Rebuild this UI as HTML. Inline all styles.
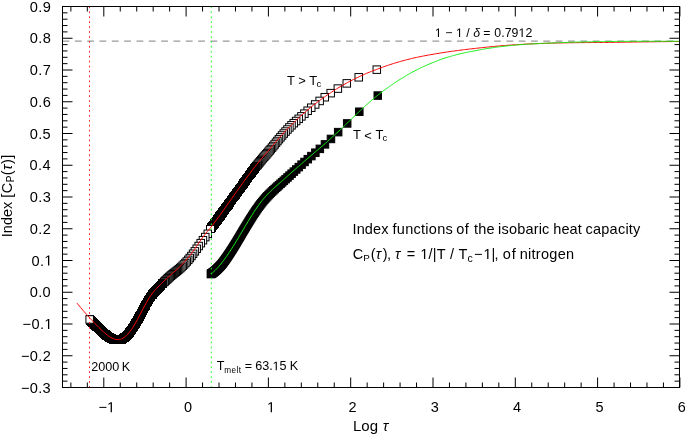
<!DOCTYPE html>
<html><head><meta charset="utf-8"><style>
html,body{margin:0;padding:0;background:#fff;width:685px;height:434px;overflow:hidden}
svg{display:block}
text{font-family:"Liberation Sans",sans-serif;fill:#000}
</style></head><body>
<div style="will-change:transform"><svg width="685" height="434" viewBox="0 0 685 434">
<rect width="685" height="434" fill="#fff"/>
<path d="M62.5 41.1H679.5" stroke="#999" stroke-width="1.2" stroke-dasharray="6.8 5.53" fill="none"/>
<g fill="#fff" stroke="#000" stroke-width="1"><g><rect x="373.05" y="65.90" width="7.5" height="7.5"/><rect x="354.98" y="73.54" width="7.5" height="7.5"/><rect x="343.03" y="79.63" width="7.5" height="7.5"/><rect x="334.10" y="84.84" width="7.5" height="7.5"/><rect x="326.95" y="89.40" width="7.5" height="7.5"/><rect x="321.00" y="93.47" width="7.5" height="7.5"/><rect x="315.90" y="97.18" width="7.5" height="7.5"/><rect x="311.44" y="100.71" width="7.5" height="7.5"/><rect x="307.47" y="103.97" width="7.5" height="7.5"/><rect x="303.90" y="107.02" width="7.5" height="7.5"/><rect x="300.66" y="109.89" width="7.5" height="7.5"/><rect x="297.68" y="112.61" width="7.5" height="7.5"/><rect x="294.94" y="115.06" width="7.5" height="7.5"/><rect x="292.39" y="117.28" width="7.5" height="7.5"/><rect x="290.00" y="119.42" width="7.5" height="7.5"/><rect x="287.77" y="121.58" width="7.5" height="7.5"/><rect x="285.67" y="123.71" width="7.5" height="7.5"/><rect x="283.69" y="125.79" width="7.5" height="7.5"/><rect x="281.81" y="127.81" width="7.5" height="7.5"/><rect x="280.02" y="129.78" width="7.5" height="7.5"/><rect x="278.32" y="131.71" width="7.5" height="7.5"/><rect x="276.70" y="133.60" width="7.5" height="7.5"/><rect x="275.15" y="135.44" width="7.5" height="7.5"/><rect x="273.66" y="137.25" width="7.5" height="7.5"/><rect x="272.23" y="138.99" width="7.5" height="7.5"/><rect x="270.86" y="140.68" width="7.5" height="7.5"/><rect x="269.53" y="142.31" width="7.5" height="7.5"/><rect x="268.26" y="143.86" width="7.5" height="7.5"/><rect x="267.02" y="145.35" width="7.5" height="7.5"/><rect x="265.83" y="146.76" width="7.5" height="7.5"/><rect x="264.68" y="148.11" width="7.5" height="7.5"/><rect x="263.57" y="149.39" width="7.5" height="7.5"/><rect x="262.48" y="150.62" width="7.5" height="7.5"/><rect x="261.43" y="151.81" width="7.5" height="7.5"/><rect x="260.41" y="152.98" width="7.5" height="7.5"/><rect x="259.42" y="154.12" width="7.5" height="7.5"/><rect x="258.45" y="155.27" width="7.5" height="7.5"/><rect x="257.51" y="156.40" width="7.5" height="7.5"/><rect x="256.60" y="157.52" width="7.5" height="7.5"/><rect x="255.70" y="158.62" width="7.5" height="7.5"/><rect x="254.83" y="159.70" width="7.5" height="7.5"/><rect x="253.98" y="160.77" width="7.5" height="7.5"/><rect x="253.15" y="161.82" width="7.5" height="7.5"/></g><g shape-rendering="crispEdges"><rect x="252.44" y="162.95" width="7.3" height="7.3"/><rect x="251.65" y="163.97" width="7.3" height="7.3"/><rect x="250.87" y="164.97" width="7.3" height="7.3"/><rect x="250.11" y="165.96" width="7.3" height="7.3"/><rect x="249.36" y="166.93" width="7.3" height="7.3"/><rect x="248.63" y="167.89" width="7.3" height="7.3"/><rect x="247.92" y="168.84" width="7.3" height="7.3"/><rect x="247.22" y="169.77" width="7.3" height="7.3"/><rect x="246.53" y="170.68" width="7.3" height="7.3"/><rect x="245.86" y="171.59" width="7.3" height="7.3"/><rect x="245.20" y="172.48" width="7.3" height="7.3"/><rect x="244.55" y="173.36" width="7.3" height="7.3"/><rect x="243.91" y="174.23" width="7.3" height="7.3"/><rect x="243.28" y="175.08" width="7.3" height="7.3"/><rect x="242.67" y="175.92" width="7.3" height="7.3"/><rect x="242.06" y="176.75" width="7.3" height="7.3"/><rect x="241.47" y="177.57" width="7.3" height="7.3"/><rect x="240.88" y="178.38" width="7.3" height="7.3"/><rect x="240.30" y="179.18" width="7.3" height="7.3"/><rect x="239.74" y="179.97" width="7.3" height="7.3"/><rect x="239.18" y="180.74" width="7.3" height="7.3"/><rect x="238.63" y="181.51" width="7.3" height="7.3"/><rect x="238.09" y="182.27" width="7.3" height="7.3"/><rect x="237.55" y="183.01" width="7.3" height="7.3"/><rect x="237.03" y="183.74" width="7.3" height="7.3"/><rect x="236.51" y="184.45" width="7.3" height="7.3"/><rect x="236.00" y="185.15" width="7.3" height="7.3"/><rect x="235.50" y="185.84" width="7.3" height="7.3"/><rect x="235.00" y="186.52" width="7.3" height="7.3"/><rect x="234.51" y="187.19" width="7.3" height="7.3"/><rect x="234.03" y="187.86" width="7.3" height="7.3"/><rect x="233.55" y="188.52" width="7.3" height="7.3"/><rect x="233.08" y="189.17" width="7.3" height="7.3"/><rect x="232.62" y="189.81" width="7.3" height="7.3"/><rect x="232.16" y="190.44" width="7.3" height="7.3"/><rect x="231.71" y="191.07" width="7.3" height="7.3"/><rect x="231.26" y="191.69" width="7.3" height="7.3"/><rect x="230.82" y="192.30" width="7.3" height="7.3"/><rect x="230.38" y="192.91" width="7.3" height="7.3"/><rect x="229.95" y="193.51" width="7.3" height="7.3"/><rect x="229.53" y="194.10" width="7.3" height="7.3"/><rect x="229.11" y="194.68" width="7.3" height="7.3"/><rect x="228.69" y="195.26" width="7.3" height="7.3"/><rect x="228.28" y="195.83" width="7.3" height="7.3"/><rect x="227.87" y="196.40" width="7.3" height="7.3"/><rect x="227.47" y="196.96" width="7.3" height="7.3"/><rect x="227.08" y="197.51" width="7.3" height="7.3"/><rect x="226.68" y="198.06" width="7.3" height="7.3"/><rect x="226.29" y="198.60" width="7.3" height="7.3"/><rect x="225.91" y="199.14" width="7.3" height="7.3"/><rect x="225.53" y="199.67" width="7.3" height="7.3"/><rect x="225.15" y="200.19" width="7.3" height="7.3"/><rect x="224.78" y="200.71" width="7.3" height="7.3"/><rect x="224.41" y="201.22" width="7.3" height="7.3"/><rect x="224.05" y="201.73" width="7.3" height="7.3"/><rect x="223.69" y="202.23" width="7.3" height="7.3"/><rect x="223.33" y="202.73" width="7.3" height="7.3"/><rect x="222.98" y="203.23" width="7.3" height="7.3"/><rect x="222.63" y="203.71" width="7.3" height="7.3"/><rect x="222.28" y="204.20" width="7.3" height="7.3"/><rect x="221.94" y="204.67" width="7.3" height="7.3"/><rect x="221.59" y="205.15" width="7.3" height="7.3"/><rect x="221.26" y="205.61" width="7.3" height="7.3"/><rect x="220.92" y="206.08" width="7.3" height="7.3"/><rect x="220.59" y="206.54" width="7.3" height="7.3"/><rect x="220.27" y="206.99" width="7.3" height="7.3"/><rect x="219.94" y="207.44" width="7.3" height="7.3"/><rect x="219.62" y="207.89" width="7.3" height="7.3"/><rect x="219.30" y="208.33" width="7.3" height="7.3"/><rect x="218.98" y="208.77" width="7.3" height="7.3"/><rect x="218.67" y="209.20" width="7.3" height="7.3"/><rect x="218.36" y="209.63" width="7.3" height="7.3"/><rect x="218.05" y="210.06" width="7.3" height="7.3"/><rect x="217.75" y="210.48" width="7.3" height="7.3"/><rect x="217.44" y="210.90" width="7.3" height="7.3"/><rect x="217.14" y="211.31" width="7.3" height="7.3"/><rect x="216.84" y="211.72" width="7.3" height="7.3"/><rect x="216.55" y="212.13" width="7.3" height="7.3"/><rect x="216.26" y="212.53" width="7.3" height="7.3"/><rect x="215.97" y="212.93" width="7.3" height="7.3"/><rect x="215.68" y="213.32" width="7.3" height="7.3"/><rect x="215.39" y="213.71" width="7.3" height="7.3"/><rect x="215.11" y="214.10" width="7.3" height="7.3"/><rect x="214.83" y="214.48" width="7.3" height="7.3"/><rect x="214.55" y="214.86" width="7.3" height="7.3"/><rect x="214.27" y="215.24" width="7.3" height="7.3"/><rect x="214.00" y="215.61" width="7.3" height="7.3"/><rect x="213.72" y="215.98" width="7.3" height="7.3"/><rect x="213.45" y="216.35" width="7.3" height="7.3"/><rect x="213.18" y="216.71" width="7.3" height="7.3"/><rect x="212.92" y="217.07" width="7.3" height="7.3"/><rect x="212.65" y="217.42" width="7.3" height="7.3"/><rect x="212.39" y="217.77" width="7.3" height="7.3"/><rect x="212.13" y="218.12" width="7.3" height="7.3"/><rect x="211.87" y="218.46" width="7.3" height="7.3"/><rect x="211.61" y="218.80" width="7.3" height="7.3"/><rect x="211.36" y="219.14" width="7.3" height="7.3"/><rect x="211.10" y="219.49" width="7.3" height="7.3"/><rect x="210.85" y="219.85" width="7.3" height="7.3"/><rect x="210.60" y="220.19" width="7.3" height="7.3"/><rect x="210.35" y="220.54" width="7.3" height="7.3"/><rect x="210.11" y="220.88" width="7.3" height="7.3"/><rect x="209.86" y="221.22" width="7.3" height="7.3"/><rect x="209.62" y="221.55" width="7.3" height="7.3"/><rect x="209.38" y="221.88" width="7.3" height="7.3"/><rect x="209.14" y="222.21" width="7.3" height="7.3"/><rect x="208.90" y="222.53" width="7.3" height="7.3"/><rect x="208.66" y="222.85" width="7.3" height="7.3"/><rect x="208.43" y="223.17" width="7.3" height="7.3"/><rect x="208.19" y="223.48" width="7.3" height="7.3"/><rect x="207.96" y="223.79" width="7.3" height="7.3"/><rect x="207.73" y="224.09" width="7.3" height="7.3"/><rect x="207.50" y="224.40" width="7.3" height="7.3"/><rect x="207.27" y="224.70" width="7.3" height="7.3"/><rect x="207.05" y="224.99" width="7.3" height="7.3"/><rect x="206.82" y="225.30" width="7.3" height="7.3"/></g><g><rect x="204.03" y="230.05" width="7.5" height="7.5"/><rect x="201.52" y="233.34" width="7.5" height="7.5"/><rect x="199.18" y="236.46" width="7.5" height="7.5"/><rect x="196.98" y="239.40" width="7.5" height="7.5"/><rect x="194.91" y="242.28" width="7.5" height="7.5"/><rect x="192.95" y="245.03" width="7.5" height="7.5"/><rect x="191.09" y="247.63" width="7.5" height="7.5"/><rect x="189.33" y="250.04" width="7.5" height="7.5"/><rect x="187.65" y="252.26" width="7.5" height="7.5"/><rect x="186.04" y="254.28" width="7.5" height="7.5"/><rect x="184.51" y="256.10" width="7.5" height="7.5"/><rect x="183.03" y="257.77" width="7.5" height="7.5"/><rect x="181.62" y="259.31" width="7.5" height="7.5"/><rect x="180.26" y="260.72" width="7.5" height="7.5"/><rect x="178.94" y="262.03" width="7.5" height="7.5"/><rect x="177.68" y="263.24" width="7.5" height="7.5"/><rect x="176.46" y="264.36" width="7.5" height="7.5"/><rect x="175.28" y="265.38" width="7.5" height="7.5"/><rect x="174.13" y="266.33" width="7.5" height="7.5"/><rect x="173.03" y="267.23" width="7.5" height="7.5"/><rect x="171.95" y="268.09" width="7.5" height="7.5"/><rect x="170.91" y="268.92" width="7.5" height="7.5"/><rect x="169.89" y="269.71" width="7.5" height="7.5"/><rect x="168.91" y="270.49" width="7.5" height="7.5"/><rect x="167.95" y="271.24" width="7.5" height="7.5"/><rect x="167.01" y="272.01" width="7.5" height="7.5"/><rect x="166.10" y="272.84" width="7.5" height="7.5"/><rect x="165.22" y="273.66" width="7.5" height="7.5"/><rect x="164.35" y="274.47" width="7.5" height="7.5"/><rect x="163.50" y="275.26" width="7.5" height="7.5"/><rect x="162.68" y="276.04" width="7.5" height="7.5"/><rect x="161.87" y="276.81" width="7.5" height="7.5"/><rect x="161.08" y="277.57" width="7.5" height="7.5"/><rect x="160.31" y="278.32" width="7.5" height="7.5"/></g><g shape-rendering="crispEdges"><rect x="159.65" y="279.15" width="7.3" height="7.3"/><rect x="158.91" y="279.88" width="7.3" height="7.3"/><rect x="158.19" y="280.60" width="7.3" height="7.3"/><rect x="157.47" y="281.32" width="7.3" height="7.3"/><rect x="156.78" y="282.02" width="7.3" height="7.3"/><rect x="156.09" y="282.72" width="7.3" height="7.3"/><rect x="155.42" y="283.41" width="7.3" height="7.3"/><rect x="154.76" y="284.10" width="7.3" height="7.3"/><rect x="154.12" y="284.77" width="7.3" height="7.3"/><rect x="153.48" y="285.43" width="7.3" height="7.3"/><rect x="152.86" y="286.09" width="7.3" height="7.3"/><rect x="152.24" y="286.75" width="7.3" height="7.3"/><rect x="151.64" y="287.41" width="7.3" height="7.3"/><rect x="151.05" y="288.08" width="7.3" height="7.3"/><rect x="150.46" y="288.75" width="7.3" height="7.3"/><rect x="149.89" y="289.43" width="7.3" height="7.3"/><rect x="149.32" y="290.13" width="7.3" height="7.3"/><rect x="148.77" y="290.83" width="7.3" height="7.3"/><rect x="148.22" y="291.54" width="7.3" height="7.3"/><rect x="147.68" y="292.27" width="7.3" height="7.3"/><rect x="147.15" y="293.01" width="7.3" height="7.3"/><rect x="146.63" y="293.77" width="7.3" height="7.3"/><rect x="146.11" y="294.54" width="7.3" height="7.3"/><rect x="145.60" y="295.33" width="7.3" height="7.3"/><rect x="145.10" y="296.13" width="7.3" height="7.3"/><rect x="144.61" y="296.94" width="7.3" height="7.3"/><rect x="144.12" y="297.75" width="7.3" height="7.3"/><rect x="143.64" y="298.57" width="7.3" height="7.3"/><rect x="143.16" y="299.40" width="7.3" height="7.3"/><rect x="142.69" y="300.23" width="7.3" height="7.3"/><rect x="142.23" y="301.06" width="7.3" height="7.3"/><rect x="141.77" y="301.89" width="7.3" height="7.3"/><rect x="141.32" y="302.72" width="7.3" height="7.3"/><rect x="140.88" y="303.55" width="7.3" height="7.3"/><rect x="140.44" y="304.37" width="7.3" height="7.3"/><rect x="140.00" y="305.18" width="7.3" height="7.3"/><rect x="139.57" y="305.97" width="7.3" height="7.3"/><rect x="139.15" y="306.76" width="7.3" height="7.3"/><rect x="138.73" y="307.54" width="7.3" height="7.3"/><rect x="138.32" y="308.31" width="7.3" height="7.3"/><rect x="137.91" y="309.08" width="7.3" height="7.3"/><rect x="137.50" y="309.84" width="7.3" height="7.3"/><rect x="137.10" y="310.59" width="7.3" height="7.3"/><rect x="136.70" y="311.33" width="7.3" height="7.3"/><rect x="136.31" y="312.06" width="7.3" height="7.3"/><rect x="135.93" y="312.78" width="7.3" height="7.3"/><rect x="135.54" y="313.50" width="7.3" height="7.3"/><rect x="135.16" y="314.20" width="7.3" height="7.3"/><rect x="134.79" y="314.89" width="7.3" height="7.3"/><rect x="134.42" y="315.56" width="7.3" height="7.3"/><rect x="134.05" y="316.23" width="7.3" height="7.3"/><rect x="133.69" y="316.88" width="7.3" height="7.3"/><rect x="133.32" y="317.52" width="7.3" height="7.3"/><rect x="132.97" y="318.15" width="7.3" height="7.3"/><rect x="132.62" y="318.77" width="7.3" height="7.3"/><rect x="132.27" y="319.37" width="7.3" height="7.3"/><rect x="131.92" y="319.96" width="7.3" height="7.3"/><rect x="131.58" y="320.54" width="7.3" height="7.3"/><rect x="131.24" y="321.10" width="7.3" height="7.3"/><rect x="130.90" y="321.65" width="7.3" height="7.3"/><rect x="130.57" y="322.19" width="7.3" height="7.3"/><rect x="130.24" y="322.71" width="7.3" height="7.3"/><rect x="129.91" y="323.22" width="7.3" height="7.3"/><rect x="129.59" y="323.71" width="7.3" height="7.3"/><rect x="129.27" y="324.20" width="7.3" height="7.3"/><rect x="128.95" y="324.67" width="7.3" height="7.3"/><rect x="128.63" y="325.12" width="7.3" height="7.3"/><rect x="128.32" y="325.57" width="7.3" height="7.3"/><rect x="128.01" y="326.00" width="7.3" height="7.3"/><rect x="127.70" y="326.43" width="7.3" height="7.3"/><rect x="127.40" y="326.84" width="7.3" height="7.3"/><rect x="127.09" y="327.23" width="7.3" height="7.3"/><rect x="126.79" y="327.62" width="7.3" height="7.3"/><rect x="126.50" y="328.00" width="7.3" height="7.3"/><rect x="126.20" y="328.36" width="7.3" height="7.3"/><rect x="125.91" y="328.72" width="7.3" height="7.3"/><rect x="125.62" y="329.06" width="7.3" height="7.3"/><rect x="125.33" y="329.39" width="7.3" height="7.3"/><rect x="125.05" y="329.74" width="7.3" height="7.3"/><rect x="124.76" y="330.08" width="7.3" height="7.3"/><rect x="124.48" y="330.40" width="7.3" height="7.3"/><rect x="124.20" y="330.72" width="7.3" height="7.3"/><rect x="123.93" y="331.03" width="7.3" height="7.3"/><rect x="123.65" y="331.32" width="7.3" height="7.3"/><rect x="123.38" y="331.61" width="7.3" height="7.3"/><rect x="123.11" y="331.89" width="7.3" height="7.3"/><rect x="122.84" y="332.15" width="7.3" height="7.3"/><rect x="122.58" y="332.41" width="7.3" height="7.3"/><rect x="122.31" y="332.66" width="7.3" height="7.3"/><rect x="122.05" y="332.90" width="7.3" height="7.3"/><rect x="121.79" y="333.13" width="7.3" height="7.3"/><rect x="121.53" y="333.36" width="7.3" height="7.3"/><rect x="121.27" y="333.57" width="7.3" height="7.3"/><rect x="121.02" y="333.78" width="7.3" height="7.3"/><rect x="120.77" y="333.98" width="7.3" height="7.3"/><rect x="120.52" y="334.16" width="7.3" height="7.3"/><rect x="120.27" y="334.35" width="7.3" height="7.3"/><rect x="120.02" y="334.52" width="7.3" height="7.3"/><rect x="119.77" y="334.69" width="7.3" height="7.3"/><rect x="119.53" y="334.84" width="7.3" height="7.3"/><rect x="119.28" y="334.99" width="7.3" height="7.3"/><rect x="119.04" y="335.13" width="7.3" height="7.3"/><rect x="118.80" y="335.27" width="7.3" height="7.3"/><rect x="118.57" y="335.40" width="7.3" height="7.3"/><rect x="118.33" y="335.52" width="7.3" height="7.3"/><rect x="118.10" y="335.63" width="7.3" height="7.3"/><rect x="117.86" y="335.73" width="7.3" height="7.3"/><rect x="117.63" y="335.83" width="7.3" height="7.3"/><rect x="117.40" y="335.92" width="7.3" height="7.3"/><rect x="117.17" y="336.01" width="7.3" height="7.3"/><rect x="116.94" y="336.09" width="7.3" height="7.3"/><rect x="116.72" y="336.16" width="7.3" height="7.3"/><rect x="116.49" y="336.22" width="7.3" height="7.3"/><rect x="116.27" y="336.28" width="7.3" height="7.3"/><rect x="116.05" y="336.34" width="7.3" height="7.3"/><rect x="115.83" y="336.39" width="7.3" height="7.3"/><rect x="115.61" y="336.43" width="7.3" height="7.3"/><rect x="115.39" y="336.46" width="7.3" height="7.3"/><rect x="115.18" y="336.50" width="7.3" height="7.3"/><rect x="114.96" y="336.52" width="7.3" height="7.3"/><rect x="114.75" y="336.54" width="7.3" height="7.3"/><rect x="114.54" y="336.56" width="7.3" height="7.3"/><rect x="114.32" y="336.57" width="7.3" height="7.3"/><rect x="114.11" y="336.58" width="7.3" height="7.3"/><rect x="113.91" y="336.58" width="7.3" height="7.3"/><rect x="113.70" y="336.58" width="7.3" height="7.3"/><rect x="113.49" y="336.57" width="7.3" height="7.3"/><rect x="113.29" y="336.56" width="7.3" height="7.3"/><rect x="113.08" y="336.55" width="7.3" height="7.3"/><rect x="112.88" y="336.53" width="7.3" height="7.3"/><rect x="112.68" y="336.51" width="7.3" height="7.3"/><rect x="112.48" y="336.48" width="7.3" height="7.3"/><rect x="112.28" y="336.45" width="7.3" height="7.3"/><rect x="112.08" y="336.42" width="7.3" height="7.3"/><rect x="111.88" y="336.39" width="7.3" height="7.3"/><rect x="111.69" y="336.35" width="7.3" height="7.3"/><rect x="111.49" y="336.31" width="7.3" height="7.3"/><rect x="111.30" y="336.26" width="7.3" height="7.3"/><rect x="111.10" y="336.21" width="7.3" height="7.3"/><rect x="110.91" y="336.16" width="7.3" height="7.3"/><rect x="110.72" y="336.11" width="7.3" height="7.3"/><rect x="110.53" y="336.05" width="7.3" height="7.3"/><rect x="110.34" y="335.99" width="7.3" height="7.3"/><rect x="110.16" y="335.93" width="7.3" height="7.3"/><rect x="109.97" y="335.87" width="7.3" height="7.3"/><rect x="109.78" y="335.80" width="7.3" height="7.3"/><rect x="109.60" y="335.73" width="7.3" height="7.3"/><rect x="109.41" y="335.66" width="7.3" height="7.3"/><rect x="109.23" y="335.59" width="7.3" height="7.3"/><rect x="109.05" y="335.51" width="7.3" height="7.3"/><rect x="108.87" y="335.43" width="7.3" height="7.3"/><rect x="108.69" y="335.35" width="7.3" height="7.3"/><rect x="108.51" y="335.27" width="7.3" height="7.3"/><rect x="108.33" y="335.19" width="7.3" height="7.3"/><rect x="108.15" y="335.11" width="7.3" height="7.3"/><rect x="107.97" y="335.02" width="7.3" height="7.3"/><rect x="107.80" y="334.93" width="7.3" height="7.3"/><rect x="107.62" y="334.84" width="7.3" height="7.3"/><rect x="107.45" y="334.75" width="7.3" height="7.3"/><rect x="107.28" y="334.66" width="7.3" height="7.3"/><rect x="107.10" y="334.56" width="7.3" height="7.3"/><rect x="106.93" y="334.46" width="7.3" height="7.3"/><rect x="106.76" y="334.37" width="7.3" height="7.3"/><rect x="106.59" y="334.27" width="7.3" height="7.3"/><rect x="106.42" y="334.17" width="7.3" height="7.3"/><rect x="106.25" y="334.07" width="7.3" height="7.3"/><rect x="106.09" y="333.96" width="7.3" height="7.3"/><rect x="105.92" y="333.86" width="7.3" height="7.3"/><rect x="105.75" y="333.75" width="7.3" height="7.3"/><rect x="105.59" y="333.65" width="7.3" height="7.3"/><rect x="105.42" y="333.54" width="7.3" height="7.3"/><rect x="105.26" y="333.43" width="7.3" height="7.3"/><rect x="105.10" y="333.32" width="7.3" height="7.3"/><rect x="104.93" y="333.21" width="7.3" height="7.3"/><rect x="104.77" y="333.10" width="7.3" height="7.3"/><rect x="104.61" y="332.99" width="7.3" height="7.3"/><rect x="104.45" y="332.88" width="7.3" height="7.3"/><rect x="104.29" y="332.76" width="7.3" height="7.3"/><rect x="104.13" y="332.65" width="7.3" height="7.3"/><rect x="103.98" y="332.53" width="7.3" height="7.3"/><rect x="103.82" y="332.42" width="7.3" height="7.3"/><rect x="103.66" y="332.30" width="7.3" height="7.3"/><rect x="103.51" y="332.18" width="7.3" height="7.3"/><rect x="103.35" y="332.07" width="7.3" height="7.3"/><rect x="103.20" y="331.95" width="7.3" height="7.3"/><rect x="103.04" y="331.83" width="7.3" height="7.3"/><rect x="102.89" y="331.71" width="7.3" height="7.3"/><rect x="102.74" y="331.59" width="7.3" height="7.3"/><rect x="102.59" y="331.47" width="7.3" height="7.3"/><rect x="102.43" y="331.35" width="7.3" height="7.3"/><rect x="102.28" y="331.23" width="7.3" height="7.3"/><rect x="102.13" y="331.11" width="7.3" height="7.3"/><rect x="101.98" y="330.99" width="7.3" height="7.3"/><rect x="101.84" y="330.87" width="7.3" height="7.3"/><rect x="101.69" y="330.74" width="7.3" height="7.3"/><rect x="101.54" y="330.62" width="7.3" height="7.3"/><rect x="101.39" y="330.50" width="7.3" height="7.3"/><rect x="101.25" y="330.38" width="7.3" height="7.3"/><rect x="101.10" y="330.25" width="7.3" height="7.3"/><rect x="100.96" y="330.13" width="7.3" height="7.3"/><rect x="100.81" y="330.01" width="7.3" height="7.3"/><rect x="100.67" y="329.88" width="7.3" height="7.3"/><rect x="100.52" y="329.76" width="7.3" height="7.3"/><rect x="100.38" y="329.64" width="7.3" height="7.3"/><rect x="100.24" y="329.51" width="7.3" height="7.3"/><rect x="100.10" y="329.39" width="7.3" height="7.3"/><rect x="99.96" y="329.26" width="7.3" height="7.3"/><rect x="99.81" y="329.14" width="7.3" height="7.3"/><rect x="99.67" y="329.02" width="7.3" height="7.3"/><rect x="99.54" y="328.89" width="7.3" height="7.3"/><rect x="99.40" y="328.77" width="7.3" height="7.3"/><rect x="99.26" y="328.64" width="7.3" height="7.3"/><rect x="99.12" y="328.52" width="7.3" height="7.3"/><rect x="98.98" y="328.40" width="7.3" height="7.3"/><rect x="98.85" y="328.27" width="7.3" height="7.3"/><rect x="98.71" y="328.15" width="7.3" height="7.3"/><rect x="98.57" y="328.02" width="7.3" height="7.3"/><rect x="98.44" y="327.90" width="7.3" height="7.3"/><rect x="98.30" y="327.78" width="7.3" height="7.3"/><rect x="98.17" y="327.65" width="7.3" height="7.3"/><rect x="98.04" y="327.53" width="7.3" height="7.3"/><rect x="97.90" y="327.41" width="7.3" height="7.3"/><rect x="97.77" y="327.28" width="7.3" height="7.3"/><rect x="97.64" y="327.16" width="7.3" height="7.3"/><rect x="97.51" y="327.04" width="7.3" height="7.3"/><rect x="97.37" y="326.92" width="7.3" height="7.3"/><rect x="97.24" y="326.80" width="7.3" height="7.3"/><rect x="97.11" y="326.68" width="7.3" height="7.3"/><rect x="96.98" y="326.56" width="7.3" height="7.3"/><rect x="96.85" y="326.44" width="7.3" height="7.3"/><rect x="96.73" y="326.32" width="7.3" height="7.3"/><rect x="96.60" y="326.20" width="7.3" height="7.3"/><rect x="96.47" y="326.08" width="7.3" height="7.3"/><rect x="96.34" y="325.96" width="7.3" height="7.3"/><rect x="96.21" y="325.85" width="7.3" height="7.3"/><rect x="96.09" y="325.73" width="7.3" height="7.3"/><rect x="95.96" y="325.61" width="7.3" height="7.3"/><rect x="95.84" y="325.49" width="7.3" height="7.3"/><rect x="95.71" y="325.37" width="7.3" height="7.3"/><rect x="95.59" y="325.26" width="7.3" height="7.3"/><rect x="95.46" y="325.14" width="7.3" height="7.3"/><rect x="95.34" y="325.02" width="7.3" height="7.3"/><rect x="95.21" y="324.91" width="7.3" height="7.3"/><rect x="95.09" y="324.79" width="7.3" height="7.3"/><rect x="94.97" y="324.67" width="7.3" height="7.3"/><rect x="94.85" y="324.56" width="7.3" height="7.3"/><rect x="94.72" y="324.44" width="7.3" height="7.3"/><rect x="94.60" y="324.32" width="7.3" height="7.3"/><rect x="94.48" y="324.21" width="7.3" height="7.3"/><rect x="94.36" y="324.09" width="7.3" height="7.3"/><rect x="94.24" y="323.98" width="7.3" height="7.3"/><rect x="94.12" y="323.86" width="7.3" height="7.3"/><rect x="94.00" y="323.75" width="7.3" height="7.3"/><rect x="93.88" y="323.63" width="7.3" height="7.3"/><rect x="93.76" y="323.52" width="7.3" height="7.3"/><rect x="93.65" y="323.40" width="7.3" height="7.3"/><rect x="93.53" y="323.29" width="7.3" height="7.3"/><rect x="93.41" y="323.18" width="7.3" height="7.3"/><rect x="93.29" y="323.06" width="7.3" height="7.3"/><rect x="93.18" y="322.95" width="7.3" height="7.3"/><rect x="93.06" y="322.84" width="7.3" height="7.3"/><rect x="92.94" y="322.72" width="7.3" height="7.3"/><rect x="92.83" y="322.61" width="7.3" height="7.3"/><rect x="92.71" y="322.50" width="7.3" height="7.3"/><rect x="92.60" y="322.38" width="7.3" height="7.3"/><rect x="92.48" y="322.27" width="7.3" height="7.3"/><rect x="92.37" y="322.16" width="7.3" height="7.3"/><rect x="92.26" y="322.05" width="7.3" height="7.3"/><rect x="92.14" y="321.94" width="7.3" height="7.3"/><rect x="92.03" y="321.83" width="7.3" height="7.3"/><rect x="91.92" y="321.72" width="7.3" height="7.3"/><rect x="91.80" y="321.61" width="7.3" height="7.3"/><rect x="91.69" y="321.51" width="7.3" height="7.3"/><rect x="91.58" y="321.40" width="7.3" height="7.3"/><rect x="91.47" y="321.29" width="7.3" height="7.3"/><rect x="91.36" y="321.18" width="7.3" height="7.3"/><rect x="91.25" y="321.07" width="7.3" height="7.3"/><rect x="91.14" y="320.97" width="7.3" height="7.3"/><rect x="91.03" y="320.86" width="7.3" height="7.3"/><rect x="90.92" y="320.75" width="7.3" height="7.3"/><rect x="90.81" y="320.65" width="7.3" height="7.3"/><rect x="90.70" y="320.54" width="7.3" height="7.3"/><rect x="90.59" y="320.43" width="7.3" height="7.3"/><rect x="90.48" y="320.33" width="7.3" height="7.3"/><rect x="90.38" y="320.22" width="7.3" height="7.3"/><rect x="90.27" y="320.11" width="7.3" height="7.3"/><rect x="90.16" y="320.01" width="7.3" height="7.3"/><rect x="90.05" y="319.90" width="7.3" height="7.3"/><rect x="89.95" y="319.80" width="7.3" height="7.3"/><rect x="89.84" y="319.69" width="7.3" height="7.3"/><rect x="89.74" y="319.59" width="7.3" height="7.3"/><rect x="89.63" y="319.48" width="7.3" height="7.3"/><rect x="89.52" y="319.38" width="7.3" height="7.3"/><rect x="89.42" y="319.27" width="7.3" height="7.3"/><rect x="89.31" y="319.17" width="7.3" height="7.3"/><rect x="89.21" y="319.06" width="7.3" height="7.3"/><rect x="89.11" y="318.96" width="7.3" height="7.3"/><rect x="89.00" y="318.86" width="7.3" height="7.3"/><rect x="88.90" y="318.75" width="7.3" height="7.3"/><rect x="88.80" y="318.65" width="7.3" height="7.3"/><rect x="88.69" y="318.55" width="7.3" height="7.3"/><rect x="88.59" y="318.44" width="7.3" height="7.3"/><rect x="88.49" y="318.34" width="7.3" height="7.3"/><rect x="88.39" y="318.24" width="7.3" height="7.3"/><rect x="88.28" y="318.13" width="7.3" height="7.3"/><rect x="88.18" y="318.03" width="7.3" height="7.3"/><rect x="88.08" y="317.93" width="7.3" height="7.3"/><rect x="87.98" y="317.83" width="7.3" height="7.3"/><rect x="87.88" y="317.73" width="7.3" height="7.3"/><rect x="87.78" y="317.62" width="7.3" height="7.3"/><rect x="87.68" y="317.52" width="7.3" height="7.3"/><rect x="87.58" y="317.42" width="7.3" height="7.3"/><rect x="87.48" y="317.32" width="7.3" height="7.3"/><rect x="87.38" y="317.22" width="7.3" height="7.3"/><rect x="87.28" y="317.12" width="7.3" height="7.3"/><rect x="87.18" y="317.02" width="7.3" height="7.3"/><rect x="87.08" y="316.92" width="7.3" height="7.3"/><rect x="86.99" y="316.82" width="7.3" height="7.3"/><rect x="86.89" y="316.72" width="7.3" height="7.3"/><rect x="86.79" y="316.62" width="7.3" height="7.3"/><rect x="86.69" y="316.52" width="7.3" height="7.3"/><rect x="86.60" y="316.42" width="7.3" height="7.3"/><rect x="86.50" y="316.32" width="7.3" height="7.3"/><rect x="86.40" y="316.22" width="7.3" height="7.3"/><rect x="86.31" y="316.12" width="7.3" height="7.3"/><rect x="86.21" y="316.01" width="7.3" height="7.3"/><rect x="86.12" y="315.91" width="7.3" height="7.3"/></g><g><rect x="85.92" y="315.70" width="7.5" height="7.5"/></g></g>
<g fill="#000" stroke="#000" stroke-width="1"><rect x="207.18" y="270.27" width="7.5" height="7.5"/><rect x="207.41" y="270.11" width="7.5" height="7.5"/><rect x="207.64" y="269.96" width="7.5" height="7.5"/><rect x="207.87" y="269.81" width="7.5" height="7.5"/><rect x="208.10" y="269.65" width="7.5" height="7.5"/><rect x="208.34" y="269.49" width="7.5" height="7.5"/><rect x="208.57" y="269.33" width="7.5" height="7.5"/><rect x="208.81" y="269.16" width="7.5" height="7.5"/><rect x="209.05" y="268.98" width="7.5" height="7.5"/><rect x="209.29" y="268.81" width="7.5" height="7.5"/><rect x="209.53" y="268.63" width="7.5" height="7.5"/><rect x="209.77" y="268.44" width="7.5" height="7.5"/><rect x="210.02" y="268.25" width="7.5" height="7.5"/><rect x="210.26" y="268.05" width="7.5" height="7.5"/><rect x="210.51" y="267.85" width="7.5" height="7.5"/><rect x="210.76" y="267.65" width="7.5" height="7.5"/><rect x="211.01" y="267.44" width="7.5" height="7.5"/><rect x="211.27" y="267.23" width="7.5" height="7.5"/><rect x="211.52" y="267.01" width="7.5" height="7.5"/><rect x="211.78" y="266.79" width="7.5" height="7.5"/><rect x="212.04" y="266.56" width="7.5" height="7.5"/><rect x="212.30" y="266.33" width="7.5" height="7.5"/><rect x="212.56" y="266.09" width="7.5" height="7.5"/><rect x="212.83" y="265.85" width="7.5" height="7.5"/><rect x="213.09" y="265.60" width="7.5" height="7.5"/><rect x="213.36" y="265.35" width="7.5" height="7.5"/><rect x="213.63" y="265.09" width="7.5" height="7.5"/><rect x="213.91" y="264.83" width="7.5" height="7.5"/><rect x="214.18" y="264.56" width="7.5" height="7.5"/><rect x="214.46" y="264.28" width="7.5" height="7.5"/><rect x="214.74" y="264.00" width="7.5" height="7.5"/><rect x="215.02" y="263.72" width="7.5" height="7.5"/><rect x="215.30" y="263.43" width="7.5" height="7.5"/><rect x="215.59" y="263.13" width="7.5" height="7.5"/><rect x="215.88" y="262.83" width="7.5" height="7.5"/><rect x="216.17" y="262.52" width="7.5" height="7.5"/><rect x="216.46" y="262.20" width="7.5" height="7.5"/><rect x="216.76" y="261.88" width="7.5" height="7.5"/><rect x="217.05" y="261.56" width="7.5" height="7.5"/><rect x="217.35" y="261.22" width="7.5" height="7.5"/><rect x="217.66" y="260.88" width="7.5" height="7.5"/><rect x="217.96" y="260.54" width="7.5" height="7.5"/><rect x="218.27" y="260.18" width="7.5" height="7.5"/><rect x="218.58" y="259.78" width="7.5" height="7.5"/><rect x="218.90" y="259.37" width="7.5" height="7.5"/><rect x="219.21" y="258.95" width="7.5" height="7.5"/><rect x="219.53" y="258.53" width="7.5" height="7.5"/><rect x="219.85" y="258.10" width="7.5" height="7.5"/><rect x="220.18" y="257.66" width="7.5" height="7.5"/><rect x="220.51" y="257.22" width="7.5" height="7.5"/><rect x="220.84" y="256.77" width="7.5" height="7.5"/><rect x="221.17" y="256.30" width="7.5" height="7.5"/><rect x="221.51" y="255.83" width="7.5" height="7.5"/><rect x="221.85" y="255.36" width="7.5" height="7.5"/><rect x="222.19" y="254.87" width="7.5" height="7.5"/><rect x="222.54" y="254.38" width="7.5" height="7.5"/><rect x="222.89" y="253.87" width="7.5" height="7.5"/><rect x="223.24" y="253.36" width="7.5" height="7.5"/><rect x="223.60" y="252.84" width="7.5" height="7.5"/><rect x="223.96" y="252.31" width="7.5" height="7.5"/><rect x="224.33" y="251.77" width="7.5" height="7.5"/><rect x="224.70" y="251.22" width="7.5" height="7.5"/><rect x="225.07" y="250.67" width="7.5" height="7.5"/><rect x="225.44" y="250.10" width="7.5" height="7.5"/><rect x="225.83" y="249.52" width="7.5" height="7.5"/><rect x="226.21" y="248.93" width="7.5" height="7.5"/><rect x="226.60" y="248.34" width="7.5" height="7.5"/><rect x="226.99" y="247.73" width="7.5" height="7.5"/><rect x="227.39" y="247.11" width="7.5" height="7.5"/><rect x="227.79" y="246.48" width="7.5" height="7.5"/><rect x="228.20" y="245.84" width="7.5" height="7.5"/><rect x="228.61" y="245.19" width="7.5" height="7.5"/><rect x="229.02" y="244.53" width="7.5" height="7.5"/><rect x="229.44" y="243.86" width="7.5" height="7.5"/><rect x="229.87" y="243.17" width="7.5" height="7.5"/><rect x="230.30" y="242.48" width="7.5" height="7.5"/><rect x="230.74" y="241.77" width="7.5" height="7.5"/><rect x="231.18" y="241.05" width="7.5" height="7.5"/><rect x="231.62" y="240.32" width="7.5" height="7.5"/><rect x="232.08" y="239.57" width="7.5" height="7.5"/><rect x="232.54" y="238.82" width="7.5" height="7.5"/><rect x="233.00" y="238.05" width="7.5" height="7.5"/><rect x="233.47" y="237.26" width="7.5" height="7.5"/><rect x="233.95" y="236.47" width="7.5" height="7.5"/><rect x="234.43" y="235.66" width="7.5" height="7.5"/><rect x="234.92" y="234.84" width="7.5" height="7.5"/><rect x="235.42" y="234.00" width="7.5" height="7.5"/><rect x="235.92" y="233.16" width="7.5" height="7.5"/><rect x="236.43" y="232.30" width="7.5" height="7.5"/><rect x="236.95" y="231.42" width="7.5" height="7.5"/><rect x="237.47" y="230.53" width="7.5" height="7.5"/><rect x="238.01" y="229.63" width="7.5" height="7.5"/><rect x="238.55" y="228.71" width="7.5" height="7.5"/><rect x="239.10" y="227.78" width="7.5" height="7.5"/><rect x="239.66" y="226.84" width="7.5" height="7.5"/><rect x="240.23" y="225.90" width="7.5" height="7.5"/><rect x="240.80" y="224.94" width="7.5" height="7.5"/><rect x="241.39" y="223.97" width="7.5" height="7.5"/><rect x="241.98" y="222.98" width="7.5" height="7.5"/><rect x="242.59" y="221.98" width="7.5" height="7.5"/><rect x="243.21" y="220.97" width="7.5" height="7.5"/><rect x="243.83" y="219.94" width="7.5" height="7.5"/><rect x="244.47" y="218.90" width="7.5" height="7.5"/><rect x="245.12" y="217.84" width="7.5" height="7.5"/><rect x="245.79" y="216.78" width="7.5" height="7.5"/><rect x="246.46" y="215.69" width="7.5" height="7.5"/><rect x="247.15" y="214.60" width="7.5" height="7.5"/><rect x="247.85" y="213.49" width="7.5" height="7.5"/><rect x="248.56" y="212.37" width="7.5" height="7.5"/><rect x="249.29" y="211.24" width="7.5" height="7.5"/><rect x="250.04" y="210.10" width="7.5" height="7.5"/><rect x="250.80" y="208.95" width="7.5" height="7.5"/><rect x="251.58" y="207.79" width="7.5" height="7.5"/><rect x="252.37" y="206.62" width="7.5" height="7.5"/><rect x="253.18" y="205.45" width="7.5" height="7.5"/><rect x="254.02" y="204.27" width="7.5" height="7.5"/><rect x="254.87" y="203.09" width="7.5" height="7.5"/><rect x="255.74" y="201.90" width="7.5" height="7.5"/><rect x="256.63" y="200.71" width="7.5" height="7.5"/><rect x="257.55" y="199.53" width="7.5" height="7.5"/><rect x="258.49" y="198.35" width="7.5" height="7.5"/><rect x="259.46" y="197.17" width="7.5" height="7.5"/><rect x="260.45" y="196.00" width="7.5" height="7.5"/><rect x="261.47" y="194.83" width="7.5" height="7.5"/><rect x="262.53" y="193.67" width="7.5" height="7.5"/><rect x="263.61" y="192.50" width="7.5" height="7.5"/><rect x="264.73" y="191.33" width="7.5" height="7.5"/><rect x="265.88" y="190.16" width="7.5" height="7.5"/><rect x="267.07" y="188.97" width="7.5" height="7.5"/><rect x="268.31" y="187.77" width="7.5" height="7.5"/><rect x="269.58" y="186.56" width="7.5" height="7.5"/><rect x="270.91" y="185.32" width="7.5" height="7.5"/><rect x="272.29" y="184.06" width="7.5" height="7.5"/><rect x="273.72" y="182.77" width="7.5" height="7.5"/><rect x="275.21" y="181.43" width="7.5" height="7.5"/><rect x="276.76" y="180.04" width="7.5" height="7.5"/><rect x="278.39" y="178.59" width="7.5" height="7.5"/><rect x="280.09" y="177.05" width="7.5" height="7.5"/><rect x="281.88" y="175.43" width="7.5" height="7.5"/><rect x="283.77" y="173.70" width="7.5" height="7.5"/><rect x="285.75" y="171.87" width="7.5" height="7.5"/><rect x="287.86" y="169.93" width="7.5" height="7.5"/><rect x="290.10" y="167.87" width="7.5" height="7.5"/><rect x="292.48" y="165.69" width="7.5" height="7.5"/><rect x="295.04" y="163.37" width="7.5" height="7.5"/><rect x="297.80" y="160.89" width="7.5" height="7.5"/><rect x="300.78" y="158.24" width="7.5" height="7.5"/><rect x="304.04" y="155.41" width="7.5" height="7.5"/><rect x="307.62" y="152.34" width="7.5" height="7.5"/><rect x="311.61" y="148.95" width="7.5" height="7.5"/><rect x="316.09" y="145.12" width="7.5" height="7.5"/><rect x="321.22" y="140.64" width="7.5" height="7.5"/><rect x="327.21" y="135.19" width="7.5" height="7.5"/><rect x="334.42" y="128.38" width="7.5" height="7.5"/><rect x="343.44" y="119.68" width="7.5" height="7.5"/><rect x="355.55" y="107.98" width="7.5" height="7.5"/><rect x="374.00" y="91.83" width="7.5" height="7.5"/></g>
<path d="M89.5 6.5V387.5" stroke="#ff2020" stroke-width="1" stroke-dasharray="1.7 3.23" fill="none"/>
<path d="M211.3 6.5V387.5" stroke="#20ff20" stroke-width="1" stroke-dasharray="1.7 3.23" fill="none"/>
<polyline points="77.00,303.21 78.21,304.66 79.41,306.09 80.62,307.52 81.83,308.94 83.04,310.34 84.24,311.74 85.45,313.12 86.66,314.49 87.87,315.85 89.07,317.19 90.28,318.52 91.49,319.83 92.70,321.13 93.90,322.41 95.11,323.67 96.32,324.92 97.53,326.14 98.73,327.34 99.94,328.52 101.15,329.69 102.36,330.82 103.56,331.93 104.77,333.00 105.98,334.03 107.19,334.99 108.39,335.89 109.60,336.72 110.81,337.46 112.02,338.11 113.22,338.65 114.43,339.09 115.64,339.40 116.84,339.58 118.05,339.62 119.26,339.51 120.47,339.25 121.67,338.82 122.88,338.21 124.09,337.44 125.30,336.52 126.50,335.43 127.71,334.20 128.92,332.82 130.13,331.31 131.33,329.66 132.54,327.89 133.75,325.99 134.96,323.98 136.16,321.87 137.37,319.67 138.58,317.40 139.79,315.10 140.99,312.76 142.20,310.43 143.41,308.11 144.62,305.83 145.82,303.61 147.03,301.47 148.24,299.42 149.44,297.48 150.65,295.67 151.86,294.01 153.07,292.46 154.27,291.01 155.48,289.65 156.69,288.35 157.90,287.09 159.10,285.85 160.31,284.64 161.52,283.45 162.73,282.28 163.93,281.12 165.14,279.98 166.35,278.86 167.56,277.75 168.76,276.65 169.97,275.56 171.18,274.48 172.39,273.41 173.59,272.34 174.80,271.28 176.01,270.20 177.22,269.10 178.42,267.99 179.63,266.85 180.84,265.68 182.05,264.46 183.25,263.20 184.46,261.90 185.67,260.54 186.87,259.14 188.08,257.68 189.29,256.18 190.50,254.63 191.70,253.03 192.91,251.37 194.12,249.67 195.33,247.94 196.53,246.19 197.74,244.43 198.95,242.67 200.16,240.93 201.36,239.22 202.57,237.55 203.78,235.93 204.99,234.37 206.19,232.88 207.40,231.43 208.61,229.99 209.82,228.54 211.02,227.05 212.23,225.53 213.44,223.96 214.65,222.37 215.85,220.75 217.06,219.11 218.27,217.44 219.47,215.77 220.68,214.08 221.89,212.39 223.10,210.69 224.30,208.99 225.51,207.28 226.72,205.57 227.93,203.87 229.13,202.15 230.34,200.44 231.55,198.73 232.76,197.02 233.96,195.32 235.17,193.61 236.38,191.91 237.59,190.21 238.79,188.52 240.00,186.84 241.21,185.16 242.42,183.49 243.62,181.82 244.83,180.17 246.04,178.52 247.25,176.89 248.45,175.26 249.66,173.65 250.87,172.05 252.08,170.47 253.28,168.90 254.49,167.34 255.70,165.80 256.90,164.28 258.11,162.77 259.32,161.28 260.53,159.81 261.73,158.36 262.94,156.93 264.15,155.52 265.36,154.13 266.56,152.74 267.77,151.34 268.98,149.92 270.19,148.49 271.39,147.09 272.60,145.67 273.81,144.24 275.02,142.80 276.22,141.36 277.43,139.93 278.64,138.51 279.85,137.11 281.05,135.74 282.26,134.39 283.47,133.06 284.68,131.76 285.88,130.49 287.09,129.23 288.30,128.00 289.51,126.79 290.71,125.60 291.92,124.44 293.13,123.29 294.33,122.14 295.54,120.92 296.75,119.73 297.96,118.55 299.16,117.39 300.37,116.26 301.58,115.17 302.79,114.10 303.99,113.04 305.20,111.99 306.41,110.96 307.62,109.94 308.82,108.94 310.03,107.95 311.24,106.97 312.45,106.00 313.65,105.04 314.86,104.10 316.07,103.16 317.28,102.24 318.48,101.33 319.69,100.43 320.90,99.54 322.11,98.66 323.31,97.79 324.52,96.94 325.73,96.09 326.93,95.26 328.14,94.44 329.35,93.62 330.56,92.81 331.76,92.01 332.97,91.21 334.18,90.42 335.39,89.64 336.59,88.89 337.80,88.15 339.01,87.42 340.22,86.71 341.42,86.00 342.63,85.30 343.84,84.62 345.05,83.94 346.25,83.27 347.46,82.61 348.67,81.96 349.88,81.32 351.08,80.69 352.29,80.06 353.50,79.45 354.71,78.85 355.91,78.25 357.12,77.66 358.33,77.08 359.54,76.51 360.74,75.95 361.95,75.40 363.16,74.86 364.36,74.32 365.57,73.79 366.78,73.27 367.99,72.76 369.19,72.27 370.40,71.78 371.61,71.31 372.82,70.84 374.02,70.38 375.23,69.93 376.44,69.48 377.65,69.03 378.85,68.57 380.06,68.11 381.27,67.66 382.48,67.22 383.68,66.79 384.89,66.36 386.10,65.94 387.31,65.53 388.51,65.12 389.72,64.72 390.93,64.33 392.14,63.94 393.34,63.56 394.55,63.19 395.76,62.82 396.96,62.46 398.17,62.11 399.38,61.76 400.59,61.41 401.79,61.07 403.00,60.74 404.21,60.42 405.42,60.09 406.62,59.78 407.83,59.47 409.04,59.16 410.25,58.86 411.45,58.56 412.66,58.28 413.87,58.01 415.08,57.74 416.28,57.48 417.49,57.22 418.70,56.97 419.91,56.72 421.11,56.48 422.32,56.23 423.53,56.00 424.74,55.76 425.94,55.53 427.15,55.31 428.36,55.08 429.57,54.87 430.77,54.65 431.98,54.44 433.19,54.23 434.39,54.02 435.60,53.81 436.81,53.61 438.02,53.41 439.22,53.22 440.43,53.02 441.64,52.83 442.85,52.64 444.05,52.46 445.26,52.27 446.47,52.09 447.68,51.91 448.88,51.73 450.09,51.56 451.30,51.38 452.51,51.21 453.71,51.05 454.92,50.88 456.13,50.72 457.34,50.55 458.54,50.39 459.75,50.24 460.96,50.08 462.17,49.93 463.37,49.78 464.58,49.63 465.79,49.48 466.99,49.34 468.20,49.20 469.41,49.06 470.62,48.92 471.82,48.79 473.03,48.65 474.24,48.52 475.45,48.39 476.65,48.25 477.86,48.11 479.07,47.98 480.28,47.84 481.48,47.70 482.69,47.57 483.90,47.44 485.11,47.31 486.31,47.19 487.52,47.06 488.73,46.94 489.94,46.82 491.14,46.70 492.35,46.58 493.56,46.46 494.77,46.35 495.97,46.24 497.18,46.13 498.39,46.02 499.60,45.91 500.80,45.81 502.01,45.71 503.22,45.62 504.42,45.53 505.63,45.43 506.84,45.34 508.05,45.26 509.25,45.17 510.46,45.08 511.67,45.00 512.88,44.92 514.08,44.84 515.29,44.76 516.50,44.68 517.71,44.61 518.91,44.53 520.12,44.46 521.33,44.39 522.54,44.32 523.74,44.25 524.95,44.18 526.16,44.11 527.37,44.05 528.57,43.99 529.78,43.92 530.99,43.87 532.20,43.82 533.40,43.77 534.61,43.72 535.82,43.67 537.03,43.63 538.23,43.58 539.44,43.54 540.65,43.49 541.85,43.45 543.06,43.41 544.27,43.37 545.48,43.33 546.68,43.30 547.89,43.26 549.10,43.23 550.31,43.19 551.51,43.16 552.72,43.13 553.93,43.09 555.14,43.06 556.34,43.04 557.55,43.01 558.76,42.98 559.97,42.95 561.17,42.93 562.38,42.90 563.59,42.88 564.80,42.86 566.00,42.83 567.21,42.81 568.42,42.79 569.63,42.77 570.83,42.75 572.04,42.74 573.25,42.72 574.45,42.70 575.66,42.68 576.87,42.67 578.08,42.65 579.28,42.64 580.49,42.63 581.70,42.61 582.91,42.60 584.11,42.59 585.32,42.58 586.53,42.57 587.74,42.56 588.94,42.55 590.15,42.54 591.36,42.53 592.57,42.52 593.77,42.51 594.98,42.51 596.19,42.50 597.40,42.49 598.60,42.49 599.81,42.48 601.02,42.48 602.23,42.47 603.43,42.47 604.64,42.46 605.85,42.46 607.06,42.45 608.26,42.45 609.47,42.44 610.68,42.43 611.88,42.41 613.09,42.39 614.30,42.36 615.51,42.34 616.71,42.32 617.92,42.30 619.13,42.28 620.34,42.25 621.54,42.23 622.75,42.21 623.96,42.19 625.17,42.17 626.37,42.15 627.58,42.13 628.79,42.10 630.00,42.08 631.20,42.06 632.41,42.04 633.62,42.02 634.83,42.00 636.03,41.98 637.24,41.97 638.45,41.96 639.66,41.94 640.86,41.93 642.07,41.92 643.28,41.90 644.48,41.89 645.69,41.88 646.90,41.86 648.11,41.85 649.31,41.83 650.52,41.82 651.73,41.80 652.94,41.78 654.14,41.77 655.35,41.75 656.56,41.73 657.77,41.72 658.97,41.70 660.18,41.68 661.39,41.67 662.60,41.66 663.80,41.65 665.01,41.64 666.22,41.63 667.43,41.62 668.63,41.60 669.84,41.59 671.05,41.58 672.26,41.56 673.46,41.55 674.67,41.53 675.88,41.51 677.09,41.50 678.29,41.48 679.50,41.46" fill="none" stroke="#ff0000" stroke-width="1"/>
<polyline points="211.40,273.66 212.34,272.90 213.28,272.09 214.21,271.23 215.15,270.34 216.09,269.39 217.03,268.41 217.97,267.39 218.90,266.32 219.84,265.22 220.78,264.09 221.72,262.91 222.66,261.71 223.59,260.47 224.53,259.20 225.47,257.90 226.41,256.58 227.35,255.22 228.29,253.84 229.22,252.44 230.16,251.01 231.10,249.56 232.04,248.10 232.98,246.61 233.91,245.10 234.85,243.58 235.79,242.05 236.73,240.50 237.67,238.94 238.60,237.38 239.54,235.80 240.48,234.23 241.42,232.64 242.36,231.06 243.29,229.48 244.23,227.90 245.17,226.32 246.11,224.75 247.05,223.18 247.98,221.63 248.92,220.08 249.86,218.55 250.80,217.03 251.74,215.53 252.68,214.05 253.61,212.58 254.55,211.14 255.49,209.72 256.43,208.33 257.37,206.97 258.30,205.63 259.24,204.32 260.18,203.05 261.12,201.81 262.06,200.60 262.99,199.43 263.93,198.30 264.87,197.22 265.81,196.18 266.75,195.16 267.68,194.17 268.62,193.21 269.56,192.27 270.50,191.34 271.44,190.44 272.37,189.56 273.31,188.68 274.25,187.83 275.19,186.98 276.13,186.14 277.07,185.32 278.00,184.49 278.94,183.67 279.88,182.86 280.82,182.04 281.76,181.23 282.69,180.41 283.63,179.59 284.57,178.76 285.51,177.93 286.45,177.10 287.38,176.26 288.32,175.42 289.26,174.59 290.20,173.75 291.14,172.90 292.07,172.06 293.01,171.22 293.95,170.39 294.89,169.56 295.83,168.74 296.76,167.92 297.70,167.11 298.64,166.30 299.58,165.50 300.52,164.67 301.46,163.83 302.39,163.00 303.33,162.18 304.27,161.36 305.21,160.54 306.15,159.73 307.08,158.93 308.02,158.13 308.96,157.33 309.90,156.53 310.84,155.74 311.77,154.95 312.71,154.15 313.65,153.36 314.59,152.57 315.53,151.78 316.46,150.99 317.40,150.20 318.34,149.40 319.28,148.61 320.22,147.81 321.15,147.00 322.09,146.20 323.03,145.39 323.97,144.57 324.91,143.75 325.85,142.92 326.78,142.08 327.72,141.24 328.66,140.40 329.60,139.54 330.54,138.68 331.47,137.82 332.41,136.96 333.35,136.12 334.29,135.28 335.23,134.43 336.16,133.58 337.10,132.72 338.04,131.87 338.98,131.01 339.92,130.14 340.85,129.25 341.79,128.35 342.73,127.46 343.67,126.55 344.61,125.65 345.54,124.75 346.48,123.84 347.42,122.94 348.36,122.03 349.30,121.12 350.24,120.21 351.17,119.30 352.11,118.40 353.05,117.49 353.99,116.58 354.93,115.68 355.86,114.78 356.80,113.88 357.74,112.98 358.68,112.09 359.62,111.20 360.55,110.31 361.49,109.43 362.43,108.56 363.37,107.69 364.31,106.83 365.24,105.97 366.18,105.13 367.12,104.28 368.06,103.45 369.00,102.61 369.93,101.77 370.87,100.95 371.81,100.13 372.75,99.33 373.69,98.53 374.63,97.75 375.56,96.98 376.50,96.22 377.44,95.47 378.38,94.73 379.32,94.00 380.25,93.27 381.19,92.54 382.13,91.82 383.07,91.11 384.01,90.40 384.94,89.71 385.88,89.02 386.82,88.33 387.76,87.66 388.70,86.99 389.63,86.32 390.57,85.67 391.51,85.01 392.45,84.37 393.39,83.73 394.32,83.09 395.26,82.47 396.20,81.84 397.14,81.23 398.08,80.63 399.02,80.03 399.95,79.44 400.89,78.85 401.83,78.27 402.77,77.69 403.71,77.12 404.64,76.55 405.58,75.99 406.52,75.44 407.46,74.89 408.40,74.35 409.33,73.81 410.27,73.28 411.21,72.76 412.15,72.24 413.09,71.74 414.02,71.25 414.96,70.77 415.90,70.29 416.84,69.82 417.78,69.35 418.71,68.89 419.65,68.43 420.59,67.98 421.53,67.53 422.47,67.09 423.41,66.65 424.34,66.22 425.28,65.80 426.22,65.38 427.16,64.96 428.10,64.55 429.03,64.15 429.97,63.74 430.91,63.35 431.85,62.96 432.79,62.57 433.72,62.19 434.66,61.82 435.60,61.45 436.54,61.08 437.48,60.72 438.41,60.36 439.35,60.01 440.29,59.66 441.23,59.32 442.17,58.99 443.10,58.65 444.04,58.33 444.98,58.03 445.92,57.73 446.86,57.44 447.80,57.16 448.73,56.88 449.67,56.60 450.61,56.33 451.55,56.06 452.49,55.80 453.42,55.54 454.36,55.28 455.30,55.03 456.24,54.79 457.18,54.55 458.11,54.31 459.05,54.08 459.99,53.85 460.93,53.63 461.87,53.41 462.80,53.19 463.74,52.98 464.68,52.77 465.62,52.57 466.56,52.37 467.49,52.18 468.43,51.99 469.37,51.80 470.31,51.62 471.25,51.44 472.19,51.26 473.12,51.09 474.06,50.92 475.00,50.75 475.94,50.59 476.88,50.41 477.81,50.22 478.75,50.04 479.69,49.86 480.63,49.69 481.57,49.51 482.50,49.35 483.44,49.18 484.38,49.02 485.32,48.86 486.26,48.70 487.19,48.55 488.13,48.40 489.07,48.25 490.01,48.10 490.95,47.96 491.88,47.82 492.82,47.69 493.76,47.55 494.70,47.42 495.64,47.29 496.58,47.16 497.51,47.04 498.45,46.92 499.39,46.80 500.33,46.68 501.27,46.57 502.20,46.46 503.14,46.35 504.08,46.24 505.02,46.13 505.96,46.03 506.89,45.93 507.83,45.83 508.77,45.73 509.71,45.64 510.65,45.54 511.58,45.45 512.52,45.36 513.46,45.27 514.40,45.18 515.34,45.10 516.27,45.01 517.21,44.93 518.15,44.85 519.09,44.77 520.03,44.69 520.97,44.62 521.90,44.56 522.84,44.50 523.78,44.44 524.72,44.38 525.66,44.32 526.59,44.26 527.53,44.20 528.47,44.15 529.41,44.09 530.35,44.04 531.28,43.98 532.22,43.93 533.16,43.88 534.10,43.83 535.04,43.78 535.97,43.72 536.91,43.67 537.85,43.63 538.79,43.58 539.73,43.53 540.66,43.48 541.60,43.44 542.54,43.39 543.48,43.34 544.42,43.30 545.36,43.26 546.29,43.21 547.23,43.17 548.17,43.13 549.11,43.09 550.05,43.04 550.98,43.00 551.92,42.96 552.86,42.92 553.80,42.89 554.74,42.85 555.67,42.81 556.61,42.77 557.55,42.74 558.49,42.70 559.43,42.67 560.36,42.63 561.30,42.60 562.24,42.57 563.18,42.53 564.12,42.50 565.05,42.47 565.99,42.44 566.93,42.41 567.87,42.38 568.81,42.35 569.75,42.32 570.68,42.29 571.62,42.26 572.56,42.23 573.50,42.21 574.44,42.18 575.37,42.15 576.31,42.13 577.25,42.10 578.19,42.08 579.13,42.05 580.06,42.03 581.00,42.01 581.94,41.98 582.88,41.96 583.82,41.94 584.75,41.92 585.69,41.90 586.63,41.88 587.57,41.86 588.51,41.84 589.44,41.82 590.38,41.80 591.32,41.78 592.26,41.76 593.20,41.74 594.14,41.73 595.07,41.71 596.01,41.69 596.95,41.68 597.89,41.66 598.83,41.65 599.76,41.63 600.70,41.62 601.64,41.60 602.58,41.59 603.52,41.58 604.45,41.56 605.39,41.55 606.33,41.54 607.27,41.53 608.21,41.51 609.14,41.50 610.08,41.49 611.02,41.48 611.96,41.47 612.90,41.46 613.83,41.45 614.77,41.44 615.71,41.43 616.65,41.42 617.59,41.41 618.53,41.41 619.46,41.40 620.40,41.39 621.34,41.38 622.28,41.38 623.22,41.37 624.15,41.36 625.09,41.36 626.03,41.35 626.97,41.35 627.91,41.34 628.84,41.33 629.78,41.33 630.72,41.32 631.66,41.32 632.60,41.32 633.53,41.31 634.47,41.31 635.41,41.30 636.35,41.30 637.29,41.30 638.22,41.29 639.16,41.29 640.10,41.29 641.04,41.29 641.98,41.28 642.92,41.28 643.85,41.28 644.79,41.28 645.73,41.28 646.67,41.27 647.61,41.27 648.54,41.27 649.48,41.27 650.42,41.27 651.36,41.27 652.30,41.27 653.23,41.27 654.17,41.27 655.11,41.27 656.05,41.27 656.99,41.27 657.92,41.27 658.86,41.27 659.80,41.27 660.74,41.27 661.68,41.27 662.61,41.27 663.55,41.27 664.49,41.27 665.43,41.27 666.37,41.27 667.31,41.28 668.24,41.28 669.18,41.28 670.12,41.28 671.06,41.28 672.00,41.28 672.93,41.28 673.87,41.28 674.81,41.29 675.75,41.29 676.69,41.29 677.62,41.29 678.56,41.29 679.50,41.29" fill="none" stroke="#10f010" stroke-width="1"/>
<rect x="62.5" y="6.5" width="617.00" height="381.00" fill="none" stroke="#000" stroke-width="1"/>
<path d="M70.88 387.5v-5M70.88 6.5v5M87.34 387.5v-5M87.34 6.5v5M103.80 387.5v-10M103.80 6.5v10M120.26 387.5v-5M120.26 6.5v5M136.72 387.5v-5M136.72 6.5v5M153.18 387.5v-5M153.18 6.5v5M169.64 387.5v-5M169.64 6.5v5M186.10 387.5v-10M186.10 6.5v10M202.56 387.5v-5M202.56 6.5v5M219.02 387.5v-5M219.02 6.5v5M235.48 387.5v-5M235.48 6.5v5M251.94 387.5v-5M251.94 6.5v5M268.40 387.5v-10M268.40 6.5v10M284.86 387.5v-5M284.86 6.5v5M301.32 387.5v-5M301.32 6.5v5M317.78 387.5v-5M317.78 6.5v5M334.24 387.5v-5M334.24 6.5v5M350.70 387.5v-10M350.70 6.5v10M367.16 387.5v-5M367.16 6.5v5M383.62 387.5v-5M383.62 6.5v5M400.08 387.5v-5M400.08 6.5v5M416.54 387.5v-5M416.54 6.5v5M433.00 387.5v-10M433.00 6.5v10M449.46 387.5v-5M449.46 6.5v5M465.92 387.5v-5M465.92 6.5v5M482.38 387.5v-5M482.38 6.5v5M498.84 387.5v-5M498.84 6.5v5M515.30 387.5v-10M515.30 6.5v10M531.76 387.5v-5M531.76 6.5v5M548.22 387.5v-5M548.22 6.5v5M564.68 387.5v-5M564.68 6.5v5M581.14 387.5v-5M581.14 6.5v5M597.60 387.5v-10M597.60 6.5v10M614.06 387.5v-5M614.06 6.5v5M630.52 387.5v-5M630.52 6.5v5M646.98 387.5v-5M646.98 6.5v5M663.44 387.5v-5M663.44 6.5v5M679.90 387.5v-10M679.90 6.5v10M62.5 387.50h10M679.5 387.50h-10M62.5 381.15h5M679.5 381.15h-5M62.5 374.80h5M679.5 374.80h-5M62.5 368.45h5M679.5 368.45h-5M62.5 362.10h5M679.5 362.10h-5M62.5 355.75h10M679.5 355.75h-10M62.5 349.40h5M679.5 349.40h-5M62.5 343.05h5M679.5 343.05h-5M62.5 336.70h5M679.5 336.70h-5M62.5 330.35h5M679.5 330.35h-5M62.5 324.00h10M679.5 324.00h-10M62.5 317.65h5M679.5 317.65h-5M62.5 311.30h5M679.5 311.30h-5M62.5 304.95h5M679.5 304.95h-5M62.5 298.60h5M679.5 298.60h-5M62.5 292.25h10M679.5 292.25h-10M62.5 285.90h5M679.5 285.90h-5M62.5 279.55h5M679.5 279.55h-5M62.5 273.20h5M679.5 273.20h-5M62.5 266.85h5M679.5 266.85h-5M62.5 260.50h10M679.5 260.50h-10M62.5 254.15h5M679.5 254.15h-5M62.5 247.80h5M679.5 247.80h-5M62.5 241.45h5M679.5 241.45h-5M62.5 235.10h5M679.5 235.10h-5M62.5 228.75h10M679.5 228.75h-10M62.5 222.40h5M679.5 222.40h-5M62.5 216.05h5M679.5 216.05h-5M62.5 209.70h5M679.5 209.70h-5M62.5 203.35h5M679.5 203.35h-5M62.5 197.00h10M679.5 197.00h-10M62.5 190.65h5M679.5 190.65h-5M62.5 184.30h5M679.5 184.30h-5M62.5 177.95h5M679.5 177.95h-5M62.5 171.60h5M679.5 171.60h-5M62.5 165.25h10M679.5 165.25h-10M62.5 158.90h5M679.5 158.90h-5M62.5 152.55h5M679.5 152.55h-5M62.5 146.20h5M679.5 146.20h-5M62.5 139.85h5M679.5 139.85h-5M62.5 133.50h10M679.5 133.50h-10M62.5 127.15h5M679.5 127.15h-5M62.5 120.80h5M679.5 120.80h-5M62.5 114.45h5M679.5 114.45h-5M62.5 108.10h5M679.5 108.10h-5M62.5 101.75h10M679.5 101.75h-10M62.5 95.40h5M679.5 95.40h-5M62.5 89.05h5M679.5 89.05h-5M62.5 82.70h5M679.5 82.70h-5M62.5 76.35h5M679.5 76.35h-5M62.5 70.00h10M679.5 70.00h-10M62.5 63.65h5M679.5 63.65h-5M62.5 57.30h5M679.5 57.30h-5M62.5 50.95h5M679.5 50.95h-5M62.5 44.60h5M679.5 44.60h-5M62.5 38.25h10M679.5 38.25h-10M62.5 31.90h5M679.5 31.90h-5M62.5 25.55h5M679.5 25.55h-5M62.5 19.20h5M679.5 19.20h-5M62.5 12.85h5M679.5 12.85h-5M62.5 6.50h10M679.5 6.50h-10" stroke="#000" stroke-width="1" fill="none"/>
<text x="29.86" y="11.55" font-size="14.6" letter-spacing="0.34">0.9</text><text x="29.79" y="43.30" font-size="14.6" letter-spacing="0.34">0.8</text><text x="29.86" y="75.05" font-size="14.6" letter-spacing="0.34">0.7</text><text x="29.79" y="106.80" font-size="14.6" letter-spacing="0.34">0.6</text><text x="29.72" y="138.55" font-size="14.6" letter-spacing="0.34">0.5</text><text x="29.57" y="170.30" font-size="14.6" letter-spacing="0.34">0.4</text><text x="29.79" y="202.05" font-size="14.6" letter-spacing="0.34">0.3</text><text x="29.86" y="233.80" font-size="14.6" letter-spacing="0.34">0.2</text><text x="31.47" y="265.55" font-size="14.6" letter-spacing="0.34">0.</text><path d="M515 0V1237L197 1010V1180L530 1409H696V0Z" transform="translate(44.32,265.55) scale(0.00713,-0.00713)"/><text x="29.72" y="297.30" font-size="14.6" letter-spacing="0.34">0.0</text><text x="22.59" y="329.05" font-size="14.6" letter-spacing="0.34">−0.</text><path d="M515 0V1237L197 1010V1180L530 1409H696V0Z" transform="translate(44.31,329.05) scale(0.00713,-0.00713)"/><text x="20.98" y="360.80" font-size="14.6" letter-spacing="0.34">−0.2</text><text x="20.91" y="392.55" font-size="14.6" letter-spacing="0.34">−0.3</text><text x="98.53" y="412.20" font-size="14.5">−</text><path d="M515 0V1237L197 1010V1180L530 1409H696V0Z" transform="translate(107.00,412.20) scale(0.00708,-0.00708)"/><text x="183.88" y="412.20" font-size="14.5">0</text><path d="M515 0V1237L197 1010V1180L530 1409H696V0Z" transform="translate(267.04,412.20) scale(0.00708,-0.00708)"/><text x="348.48" y="412.20" font-size="14.5">2</text><text x="430.81" y="412.20" font-size="14.5">3</text><text x="513.11" y="412.20" font-size="14.5">4</text><text x="595.38" y="412.20" font-size="14.5">5</text><text x="677.64" y="412.20" font-size="14.5">6</text><text x="353.00" y="431.30" font-size="15">Log</text><text x="382.73" y="431.30" font-size="15" font-style="italic">τ</text><path d="M515 0V1237L197 1010V1180L530 1409H696V0Z" transform="translate(434.82,37.00) scale(0.00601,-0.00601)"/><text x="445.19" y="37.00" font-size="12.3">−</text><path d="M515 0V1237L197 1010V1180L530 1409H696V0Z" transform="translate(455.92,37.00) scale(0.00601,-0.00601)"/><text x="466.30" y="37.00" font-size="12.3">/</text><text x="473.37" y="37.00" font-size="12.3" font-style="italic">δ</text><text x="483.28" y="37.00" font-size="12.3">=</text><text x="494.21" y="37.00" font-size="12.3" letter-spacing="0.09">0.79</text><path d="M515 0V1237L197 1010V1180L530 1409H696V0Z" transform="translate(518.52,37.00) scale(0.00601,-0.00601)"/><text x="525.46" y="37.00" font-size="12.3" letter-spacing="0.09">2</text><text x="286.98" y="84.60" font-size="12.9">T</text><text x="298.16" y="85.40" font-size="12.9" fill="#333">&gt;</text><text x="309.28" y="84.60" font-size="12.9">T</text><text x="316.47" y="86.90" font-size="9.5">c</text><text x="352.88" y="138.90" font-size="12.9">T</text><text x="364.25" y="139.70" font-size="12.9" fill="#333">&lt;</text><text x="375.38" y="138.90" font-size="12.9">T</text><text x="382.57" y="140.70" font-size="9.5">c</text><text x="352.59" y="233.80" font-size="14.5" letter-spacing="0.10">Index</text><text x="392.48" y="233.80" font-size="14.5" letter-spacing="0.29">functions</text><text x="456.32" y="233.80" font-size="14.5" letter-spacing="0.47">of</text><text x="474.08" y="233.80" font-size="14.5" letter-spacing="0.11">the</text><text x="498.06" y="233.80" font-size="14.5" letter-spacing="0.19">isobaric</text><text x="553.28" y="233.80" font-size="14.5" letter-spacing="0.10">heat</text><text x="585.55" y="233.80" font-size="14.5" letter-spacing="0.23">capacity</text><text x="352.77" y="259.10" font-size="14.5">C</text><text x="363.22" y="261.40" font-size="9.8">P</text><text x="370.73" y="259.10" font-size="14.5">(</text><text x="375.72" y="259.10" font-size="14.5" font-style="italic">τ</text><text x="382.86" y="259.10" font-size="14.5">)</text><text x="387.12" y="259.10" font-size="14.5">,</text><text x="394.92" y="259.10" font-size="14.5" font-style="italic">τ</text><text x="406.67" y="259.10" font-size="14.5">=</text><path d="M515 0V1237L197 1010V1180L530 1409H696V0Z" transform="translate(420.31,259.10) scale(0.00708,-0.00708)"/><text x="428.40" y="259.10" font-size="14.5">/</text><text x="432.80" y="259.10" font-size="14.5">|</text><text x="436.74" y="259.10" font-size="14.5">T</text><text x="449.90" y="259.10" font-size="14.5">/</text><text x="458.44" y="259.10" font-size="14.5">T</text><text x="467.53" y="262.30" font-size="10.5">c</text><text x="473.97" y="259.10" font-size="14.5">−</text><path d="M515 0V1237L197 1010V1180L530 1409H696V0Z" transform="translate(483.51,259.10) scale(0.00708,-0.00708)"/><text x="491.50" y="259.10" font-size="14.5">|</text><text x="494.42" y="259.10" font-size="14.5">,</text><text x="502.82" y="259.10" font-size="14.5" letter-spacing="0.87">of</text><text x="519.76" y="259.10" font-size="14.5" letter-spacing="0.27">nitrogen</text><text x="91.17" y="370.50" font-size="12.6">2000</text><text x="121.85" y="370.50" font-size="12.6">K</text><text x="216.78" y="370.30" font-size="12.6">T</text><text x="224.17" y="372.70" font-size="8.2" letter-spacing="0.47">melt</text><text x="244.67" y="370.30" font-size="12.6">=</text><text x="255.37" y="370.30" font-size="12.6" letter-spacing="-0.12">63.</text><path d="M515 0V1237L197 1010V1180L530 1409H696V0Z" transform="translate(272.54,370.30) scale(0.00615,-0.00615)"/><text x="279.43" y="370.30" font-size="12.6" letter-spacing="-0.12">5</text><text x="289.69" y="370.30" font-size="12.6">K</text>
<text transform="translate(11.5,237.3) rotate(-90)" font-size="14.5"><tspan letter-spacing="0.05">Index</tspan><tspan letter-spacing="0.45" dx="-0.6"> [C</tspan><tspan font-size="10" dy="2.8" letter-spacing="0.45">P</tspan><tspan dy="-2.8" letter-spacing="0.45">(</tspan><tspan font-style="italic" letter-spacing="0.45">τ</tspan><tspan letter-spacing="0.45">)]</tspan></text>
</svg></div></body></html>
